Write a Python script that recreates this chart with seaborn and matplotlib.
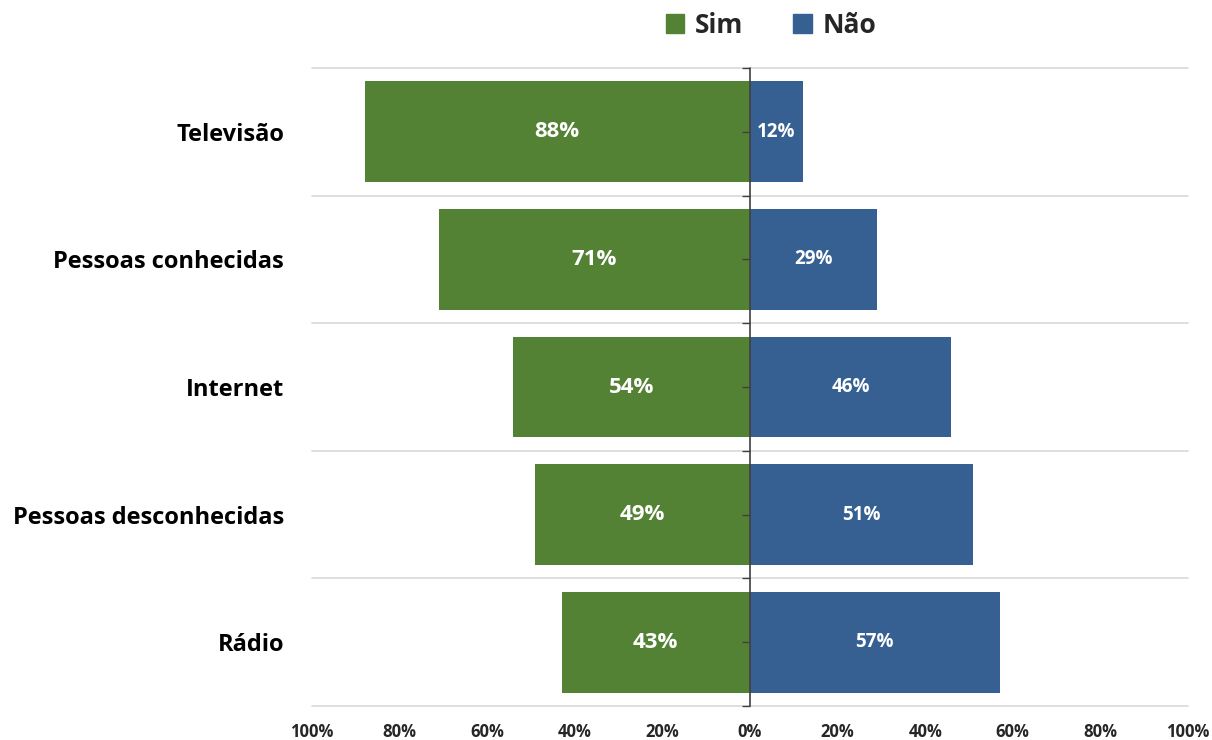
import numpy as np
import pandas as pd
import matplotlib
matplotlib.use("Agg")
import matplotlib.pyplot as plt
import seaborn as sns
from matplotlib.ticker import FuncFormatter, FixedLocator
from matplotlib.patches import Patch
from matplotlib.markers import TICKLEFT

categorias = ["Televisão", "Pessoas conhecidas", "Internet",
              "Pessoas desconhecidas", "Rádio"]
sim = [88, 71, 54, 49, 43]
nao = [12, 29, 46, 51, 57]

verde = "#548235"
azul = "#376092"

sns.set_theme(style="white")
plt.rcParams["font.family"] = ["Open Sans", "DejaVu Sans"]

df = pd.DataFrame({"cat": categorias,
                   "sim": -np.array(sim) / 100,
                   "nao": np.array(nao) / 100})

fig = plt.figure(figsize=(12.12, 7.4), dpi=100)
ax = fig.add_axes([0.2574, 0.046, 0.7228, 0.862])

sns.barplot(data=df, x="sim", y="cat", orient="h", color=verde,
            width=0.79, saturation=1, linewidth=0, ax=ax)
sns.barplot(data=df, x="nao", y="cat", orient="h", color=azul,
            width=0.79, saturation=1, linewidth=0, ax=ax)

n_cat = len(categorias)
ax.set_xlim(-1, 1)
ax.set_ylim(n_cat - 0.5, -0.5)
ax.set_xlabel("")
ax.set_ylabel("")

# rótulos dentro das barras
for i, (s, n) in enumerate(zip(sim, nao)):
    ax.text(-s / 200, i, f"{s}%", ha="center", va="center",
            color="white", fontsize=16, fontweight="bold", zorder=5)
    ax.text(n / 200, i, f"{n}%", ha="center", va="center",
            color="white", fontsize=13.5, fontweight="bold", zorder=5)

# eixo x
ax.xaxis.set_major_locator(FixedLocator(np.linspace(-1, 1, 11)))
ax.xaxis.set_major_formatter(FuncFormatter(lambda v, p: f"{abs(v) * 100:.0f}%"))
ax.tick_params(axis="x", length=0, labelsize=12, pad=12)
for lbl in ax.get_xticklabels():
    lbl.set_fontweight("bold")

# eixo y (categorias)
ax.tick_params(axis="y", length=0, labelsize=17, pad=20)
for lbl in ax.get_yticklabels():
    lbl.set_fontweight("bold")
    lbl.set_color("black")

# linhas de grade nas divisões das categorias
for b in np.arange(-0.5, n_cat, 1):
    ax.axhline(b, color="#d9d9d9", linewidth=1.2, zorder=0, clip_on=False)
ax.grid(False)
for sp in ax.spines.values():
    sp.set_visible(False)

# eixo central em 0% com marcas
ax.axvline(0, color="#404040", linewidth=1.2, zorder=4, clip_on=False)
marcas = np.arange(-0.5, n_cat, 0.5)
ax.plot(np.zeros_like(marcas), marcas, linestyle="none", marker=TICKLEFT,
        markersize=6, markeredgewidth=1, color="#404040", zorder=4,
        clip_on=False)

# legenda
handles = [Patch(color=verde, label="Sim"), Patch(color=azul, label="Não")]
fig.legend(handles=handles, loc="center", bbox_to_anchor=(0.636, 0.966),
           ncol=2, frameon=False, handlelength=0.7, handleheight=0.7,
           handletextpad=0.4, columnspacing=1.9,
           prop={"size": 19, "weight": "bold"})

fig.savefig("out.png", dpi=100)
